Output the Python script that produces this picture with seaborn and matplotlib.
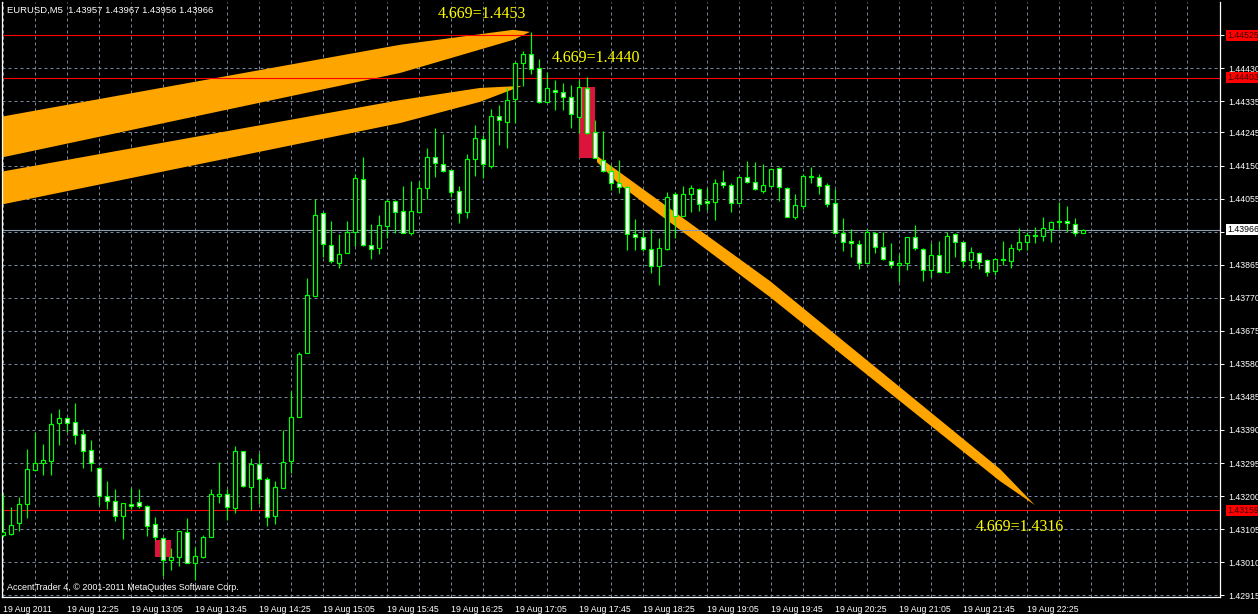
import numpy as np
import pandas as pd
import matplotlib.pyplot as plt
import matplotlib.patches as mpatches
import seaborn as sns

# EURUSD M5, 19 Aug 2011 11:45 .. 23:00
opens = [1.43088, 1.43091, 1.43122, 1.43177, 1.43275, 1.43295, 1.43301, 1.43410, 1.43424, 1.43413,
         1.43378, 1.43332, 1.43281, 1.43200, 1.43186, 1.43143, 1.43177, 1.43183, 1.43171, 1.43120,
         1.43079, 1.43016, 1.43025, 1.43097, 1.43007, 1.43025, 1.43082, 1.43200, 1.43206, 1.43166,
         1.43329, 1.43226, 1.43292, 1.43249, 1.43143, 1.43223, 1.43301, 1.43427, 1.43611, 1.43775,
         1.44014, 1.43922, 1.43870, 1.43899, 1.43959, 1.44111, 1.43922, 1.43913, 1.43976, 1.44048,
         1.44019, 1.43956, 1.44017, 1.44086, 1.44175, 1.44155, 1.44137, 1.44077, 1.44017, 1.44169,
         1.44226, 1.44149, 1.44293, 1.44275, 1.44341, 1.44445, 1.44471, 1.44430, 1.44333, 1.44367,
         1.44362, 1.44347, 1.44290, 1.44373, 1.44247, 1.44166, 1.44134, 1.44100, 1.44088, 1.43953,
         1.43945, 1.43910, 1.43861, 1.43910, 1.44068, 1.44005, 1.44068, 1.44083, 1.44048, 1.44045,
         1.44103, 1.44094, 1.44042, 1.44117, 1.44103, 1.44077, 1.44091, 1.44143, 1.44086, 1.44002,
         1.44034, 1.44120, 1.44117, 1.44094, 1.44042, 1.43956, 1.43933, 1.43925, 1.43870, 1.43956,
         1.43916, 1.43876, 1.43864, 1.43870, 1.43945, 1.43910, 1.43850, 1.43893, 1.43844, 1.43953,
         1.43930, 1.43879, 1.43899, 1.43879, 1.43847, 1.43881, 1.43876, 1.43910, 1.43930, 1.43950,
         1.43948, 1.43968, 1.43991, 1.43991, 1.43982, 1.43957]
highs = [1.43206, 1.43168, 1.43197, 1.43335, 1.43384, 1.43350, 1.43439, 1.43450, 1.43427, 1.43467,
         1.43393, 1.43361, 1.43283, 1.43243, 1.43220, 1.43180, 1.43223, 1.43220, 1.43174, 1.43140,
         1.43082, 1.43051, 1.43099, 1.43137, 1.43053, 1.43088, 1.43220, 1.43298, 1.43220, 1.43344,
         1.43329, 1.43309, 1.43324, 1.43255, 1.43243, 1.43390, 1.43502, 1.43614, 1.43827, 1.44054,
         1.44017, 1.43991, 1.43953, 1.43991, 1.44126, 1.44175, 1.43982, 1.44008, 1.44051, 1.44051,
         1.44091, 1.44106, 1.44106, 1.44201, 1.44258, 1.44241, 1.44137, 1.44091, 1.44183, 1.44267,
         1.44238, 1.44313, 1.44324, 1.44376, 1.44448, 1.44479, 1.44534, 1.44456, 1.44419, 1.44396,
         1.44387, 1.44382, 1.44396, 1.44405, 1.44281, 1.44249, 1.44152, 1.44166, 1.44091, 1.43996,
         1.43965, 1.43968, 1.43942, 1.44074, 1.44074, 1.44091, 1.44094, 1.44086, 1.44086, 1.44111,
         1.44137, 1.44100, 1.44117, 1.44163, 1.44160, 1.44155, 1.44140, 1.44146, 1.44088, 1.44068,
         1.44126, 1.44146, 1.44126, 1.44100, 1.44083, 1.43999, 1.43968, 1.43936, 1.43968, 1.43959,
         1.43959, 1.43927, 1.43896, 1.43945, 1.43979, 1.43913, 1.43927, 1.43933, 1.43959, 1.43956,
         1.43930, 1.43916, 1.43902, 1.43881, 1.43884, 1.43933, 1.43925, 1.43971, 1.43959, 1.43973,
         1.44002, 1.43991, 1.44045, 1.44034, 1.43999, 1.43967]
lows = [1.43082, 1.43088, 1.43099, 1.43137, 1.43275, 1.43260, 1.43260, 1.43347, 1.43384, 1.43350,
        1.43281, 1.43272, 1.43174, 1.43163, 1.43128, 1.43076, 1.43163, 1.43166, 1.43085, 1.43074,
        1.42970, 1.42987, 1.42999, 1.43007, 1.42959, 1.43022, 1.43082, 1.43180, 1.43131, 1.43151,
        1.43226, 1.43160, 1.43177, 1.43114, 1.43120, 1.43223, 1.43266, 1.43427, 1.43611, 1.43775,
        1.43887, 1.43870, 1.43856, 1.43899, 1.43919, 1.43919, 1.43881, 1.43896, 1.43942, 1.43956,
        1.43956, 1.43950, 1.44017, 1.44054, 1.44117, 1.44132, 1.44060, 1.43985, 1.43999, 1.44120,
        1.44114, 1.44143, 1.44209, 1.44201, 1.44272, 1.44379, 1.44413, 1.44330, 1.44333, 1.44310,
        1.44310, 1.44258, 1.44244, 1.44241, 1.44172, 1.44132, 1.44080, 1.44071, 1.43907, 1.43907,
        1.43904, 1.43841, 1.43807, 1.43907, 1.43942, 1.44005, 1.44017, 1.44019, 1.44022, 1.43994,
        1.44086, 1.44017, 1.44042, 1.44100, 1.44080, 1.44071, 1.44091, 1.44048, 1.44002, 1.43996,
        1.44025, 1.44100, 1.44068, 1.44031, 1.43956, 1.43904, 1.43887, 1.43853, 1.43870, 1.43899,
        1.43879, 1.43856, 1.43815, 1.43850, 1.43907, 1.43818, 1.43830, 1.43844, 1.43841, 1.43887,
        1.43858, 1.43856, 1.43853, 1.43833, 1.43835, 1.43864, 1.43856, 1.43904, 1.43907, 1.43927,
        1.43933, 1.43930, 1.43968, 1.43959, 1.43948, 1.43956]
closes = [1.43097, 1.43117, 1.43177, 1.43278, 1.43295, 1.43304, 1.43407, 1.43424, 1.43410, 1.43375,
          1.43329, 1.43295, 1.43200, 1.43186, 1.43143, 1.43180, 1.43171, 1.43171, 1.43114, 1.43082,
          1.43016, 1.43025, 1.43099, 1.43007, 1.43028, 1.43082, 1.43206, 1.43206, 1.43168, 1.43329,
          1.43229, 1.43292, 1.43249, 1.43140, 1.43226, 1.43298, 1.43427, 1.43608, 1.43778, 1.44008,
          1.43925, 1.43876, 1.43896, 1.43959, 1.44114, 1.43922, 1.43910, 1.43979, 1.44048, 1.44017,
          1.43956, 1.44019, 1.44086, 1.44175, 1.44157, 1.44134, 1.44074, 1.44014, 1.44169, 1.44229,
          1.44155, 1.44293, 1.44281, 1.44338, 1.44445, 1.44471, 1.44428, 1.44333, 1.44373, 1.44362,
          1.44347, 1.44298, 1.44376, 1.44244, 1.44172, 1.44134, 1.44100, 1.44088, 1.43953, 1.43945,
          1.43910, 1.43861, 1.43913, 1.44060, 1.44005, 1.44068, 1.44086, 1.44040, 1.44042, 1.44100,
          1.44094, 1.44042, 1.44117, 1.44103, 1.44083, 1.44094, 1.44140, 1.44088, 1.44002, 1.44037,
          1.44120, 1.44117, 1.44091, 1.44040, 1.43956, 1.43930, 1.43927, 1.43870, 1.43959, 1.43916,
          1.43881, 1.43864, 1.43870, 1.43945, 1.43913, 1.43850, 1.43893, 1.43844, 1.43948, 1.43930,
          1.43876, 1.43902, 1.43873, 1.43844, 1.43881, 1.43879, 1.43913, 1.43930, 1.43950, 1.43948,
          1.43971, 1.43988, 1.43988, 1.43985, 1.43956, 1.43966]

time_ticks = [0, 8, 16, 24, 32, 40, 48, 56, 64, 72, 80, 88, 96, 104, 112, 120, 128]
time_labels = ['19 Aug 2011', '19 Aug 12:25', '19 Aug 13:05', '19 Aug 13:45', '19 Aug 14:25',
               '19 Aug 15:05', '19 Aug 15:45', '19 Aug 16:25', '19 Aug 17:05', '19 Aug 17:45',
               '19 Aug 18:25', '19 Aug 19:05', '19 Aug 19:45', '19 Aug 20:25', '19 Aug 21:05',
               '19 Aug 21:45', '19 Aug 22:25']
price_ticks = [1.44525, 1.44430, 1.44335, 1.44245, 1.44150, 1.44055, 1.43960, 1.43865, 1.43770,
               1.43675, 1.43580, 1.43485, 1.43390, 1.43295, 1.43200, 1.43105, 1.43010, 1.42915]

# horizontal line objects and bid
hlines_red = [1.44525, 1.44403, 1.43159]
bid_price = 1.43966

# drawn objects (bar index, price)
band_upper_x = [-1.04, 49.59, 63.71, 65.84, 63.71, 49.59, -1.04]
band_upper_y = [1.44287, 1.44497, 1.44540, 1.44534, 1.44511, 1.44416, 1.44169]
band_lower_x = [-1.04, 49.59, 59.59, 64.84, 59.59, 49.59, -1.04]
band_lower_y = [1.44129, 1.44338, 1.44373, 1.44379, 1.44333, 1.44272, 1.44034]
band_down_x = [74.21, 95.84, 124.59, 128.96, 124.59, 95.84, 77.09, 74.21]
band_down_y = [1.44178, 1.43818, 1.43278, 1.43174, 1.43243, 1.43772, 1.44094, 1.44160]
rects = [(72, 74, 1.44172, 1.44376), (19, 21, 1.43025, 1.43074)]
labels_txt = ['4.669=1.4453', '4.669=1.4440', '4.669=1.4316']
labels_bar = [54.3, 68.5, 121.5]
labels_price = [1.44586, 1.44459, 1.43111]

sns.set_theme(style='dark', rc={'axes.facecolor': 'black', 'figure.facecolor': 'black',
                                'axes.edgecolor': 'white', 'text.color': 'white',
                                'xtick.color': 'white', 'ytick.color': 'white'})
plt.rcParams['font.family'] = ['Liberation Sans', 'DejaVu Sans']

df = pd.DataFrame({'open': opens, 'high': highs, 'low': lows, 'close': closes})
df['bar'] = np.arange(len(df))
df['bear'] = df['close'] < df['open']

W, H = 1258, 614
fig = plt.figure(figsize=(W / 100, H / 100), dpi=100)
ax = fig.add_axes([2 / W, 17 / H, 1218 / W, 595 / H])
ax.set_facecolor('black')
ax.set_xlim(-0.1625, 152.09)
ax.set_ylim(1.42910, 1.44620)

grid_c = '#778899'
ax.set_xticks(time_ticks)
ax.set_xticklabels(time_labels, ha='left', fontsize=6.3)
ax.set_xticks([t + 4 for t in time_ticks] + [136, 140, 144, 148], minor=True)
ax.yaxis.tick_right()
ax.set_yticks(price_ticks)
# the bid marker covers the 1.43960 level label
ax.set_yticklabels(['' if abs(p - bid_price) < 0.0001 else f'{p:.5f}' for p in price_ticks],
                   fontsize=6.3)
ax.tick_params(axis='x', which='major', length=4, width=0.7, pad=2, color='white', labelcolor='white')
ax.tick_params(axis='x', which='minor', length=0)
ax.tick_params(axis='y', length=3, width=0.7, pad=3, color='white', labelcolor='white')
ax.grid(True, which='both', color=grid_c, linestyle=(0, (3, 3)), linewidth=0.72)
for s in ['left', 'right', 'bottom']:
    ax.spines[s].set_color('white')
    ax.spines[s].set_linewidth(0.9)
ax.spines['top'].set_visible(False)

# objects
orange = '#FFA500'
ax.fill(band_upper_x, band_upper_y, color=orange, lw=0, zorder=1)
ax.fill(band_lower_x, band_lower_y, color=orange, lw=0, zorder=1)
ax.fill(band_down_x, band_down_y, color=orange, lw=0, zorder=1)
for x0, x1, y0, y1 in rects:
    ax.add_patch(mpatches.Rectangle((x0, y0), x1 - x0, y1 - y0, color='#DC143C', lw=0, zorder=1))
for p in hlines_red:
    ax.axhline(p, color='red', lw=0.8, zorder=2)
ax.axhline(bid_price, color='#8C9BB0', lw=0.8, zorder=2)

# candles
green = '#00FF00'
ax.vlines(df['bar'], df['low'], df['high'], color=green, lw=0.85, zorder=3)
body_lo = df[['open', 'close']].min(axis=1)
body_h = (df['close'] - df['open']).abs()
fills = np.where(df['bear'], 'white', 'black')
ax.bar(df['bar'], body_h, bottom=body_lo, width=0.5, color=fills, edgecolor=green,
       linewidth=0.85, zorder=4)

for t, b, p in zip(labels_txt, labels_bar, labels_price):
    ax.text(b, p, t, color='#FFFF00', fontsize=11.5, family='Liberation Serif',
            va='center', ha='left', zorder=6)

# price scale markers
ytr = ax.get_yaxis_transform()
for p in hlines_red:
    ax.text(1.0057, p, f'{p:.5f}', transform=ytr, fontsize=6.3, color='#400000', va='center',
            ha='left', clip_on=False, zorder=7,
            bbox=dict(boxstyle='square,pad=0.12', fc='red', ec='none'))
ax.text(1.0057, bid_price, f'{bid_price:.5f}', transform=ytr, fontsize=6.3, color='black',
        va='center', ha='left', clip_on=False, zorder=7,
        bbox=dict(boxstyle='square,pad=0.12', fc='white', ec='none'))

fig.text(7 / W, 1 - 10 / H, 'EURUSD,M5  1.43957 1.43967 1.43956 1.43966', color='white',
         fontsize=6.8, va='center', ha='left')
fig.text(7 / W, 1 - 587 / H, 'AccentTrader 4, \u00a9 2001-2011 MetaQuotes Software Corp.',
         color='white', fontsize=6.5, va='center', ha='left')

fig.savefig('out.png', dpi=100, facecolor='black')
